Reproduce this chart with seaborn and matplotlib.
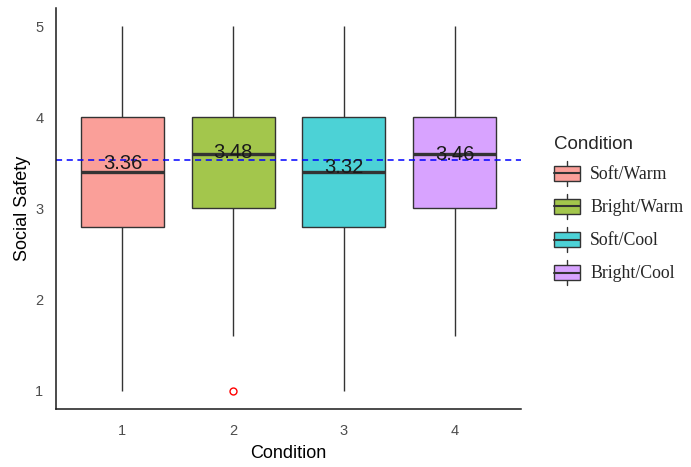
import pandas as pd
import numpy as np
import matplotlib
matplotlib.use("Agg")
import matplotlib.pyplot as plt
import seaborn as sns
from matplotlib.patches import Rectangle
from matplotlib.lines import Line2D
from matplotlib.legend_handler import HandlerBase

# 데이터
conditions = ["1", "2", "3", "4"]
labels = ["Soft/Warm", "Bright/Warm", "Soft/Cool", "Bright/Cool"]
scores_1 = [1.0, 2.8, 3.4, 4.0, 5.0]
scores_2 = [1.0, 1.6, 3.0, 3.0, 3.6, 4.0, 4.0, 5.0, 5.0]
scores_3 = [1.0, 2.8, 3.4, 4.0, 5.0]
scores_4 = [1.6, 3.0, 3.6, 4.0, 5.0]
mean_labels = [3.36, 3.48, 3.32, 3.46]
ref_line = 3.53

colors = ["#FA9F99", "#A3C64C", "#4CD2D6", "#D8A3FF"]
edge = "#333333"

rows = []
for c, lab, vals in zip(conditions, labels, [scores_1, scores_2, scores_3, scores_4]):
    for v in vals:
        rows.append({"Condition": c, "label": lab, "Social Safety": v})
df = pd.DataFrame(rows)

sns.set_style("white")
plt.rcParams['font.family'] = ['Liberation Sans', 'DejaVu Sans']

fig = plt.figure(figsize=(6.91, 4.67), dpi=100)
ax = fig.add_axes([56 / 691, 1 - 409 / 467, 465 / 691, 401 / 467])

sns.boxplot(data=df, x="Condition", y="Social Safety", hue="label",
            hue_order=labels, palette=colors, dodge=False, width=0.75,
            saturation=1, linecolor=edge, linewidth=1, showcaps=False,
            medianprops=dict(linewidth=2.4, color=edge),
            flierprops=dict(marker="o", markerfacecolor="none",
                            markeredgecolor="red", markersize=5, markeredgewidth=1),
            legend=False, ax=ax)

# 평균 라벨
for i, m in enumerate(mean_labels):
    ax.annotate(f"{m:.2f}", (i, m), xytext=(0, 2), textcoords="offset points",
                ha="center", va="bottom", fontsize=14.5, color="#1a1a1a")

ax.axhline(ref_line, color="blue", linestyle=(0, (4, 3)), linewidth=1.1)

ax.set_xlim(-0.6, 3.6)
ax.set_ylim(0.8, 5.2)
ax.set_yticks([1, 2, 3, 4, 5])
ax.tick_params(axis="y", length=0, labelsize=10.5, labelcolor="#4D4D4D", pad=9)
ax.tick_params(axis="x", length=0, labelsize=10.5, labelcolor="#4D4D4D", pad=11)
ax.set_xlabel("Condition", fontsize=13, color="black", labelpad=5)
ax.set_ylabel("Social Safety", fontsize=13, color="black", labelpad=3)
for s in ["top", "right"]:
    ax.spines[s].set_visible(False)
for s in ["left", "bottom"]:
    ax.spines[s].set_color("#1a1a1a")
    ax.spines[s].set_linewidth(1.1)


# 범례: ggplot 스타일 박스 키
class BoxKey(HandlerBase):
    def create_artists(self, legend, orig_handle, xdescent, ydescent,
                       width, height, fontsize, trans):
        fc = orig_handle.get_facecolor()
        cx = -xdescent + width / 2
        bh = height * 0.6
        by = -ydescent + (height - bh) / 2
        rect = Rectangle((-xdescent, by), width, bh, facecolor=fc,
                         edgecolor=edge, linewidth=1, transform=trans)
        med = Line2D([-xdescent, -xdescent + width], [by + bh / 2] * 2,
                     color=edge, linewidth=1.5, transform=trans)
        top = Line2D([cx, cx], [by + bh, -ydescent + height * 1.0],
                     color=edge, linewidth=1, transform=trans)
        bot = Line2D([cx, cx], [by, -ydescent],
                     color=edge, linewidth=1, transform=trans)
        return [top, bot, rect, med]


handles = [Rectangle((0, 0), 1, 1, facecolor=c) for c in colors]
leg = fig.legend(handles, labels, handler_map={Rectangle: BoxKey()},
                 title="Condition", loc="upper left",
                 bbox_to_anchor=(543 / 691, 1 - 125 / 467), frameon=False,
                 prop={"family": "Liberation Serif", "size": 12.8},
                 title_fontproperties={"family": "Liberation Sans", "size": 13.5},
                 handlelength=1.5, handleheight=1.8, handletextpad=0.55,
                 labelspacing=0.45, alignment="left", borderaxespad=0.2)

fig.savefig("out.png", dpi=100)
